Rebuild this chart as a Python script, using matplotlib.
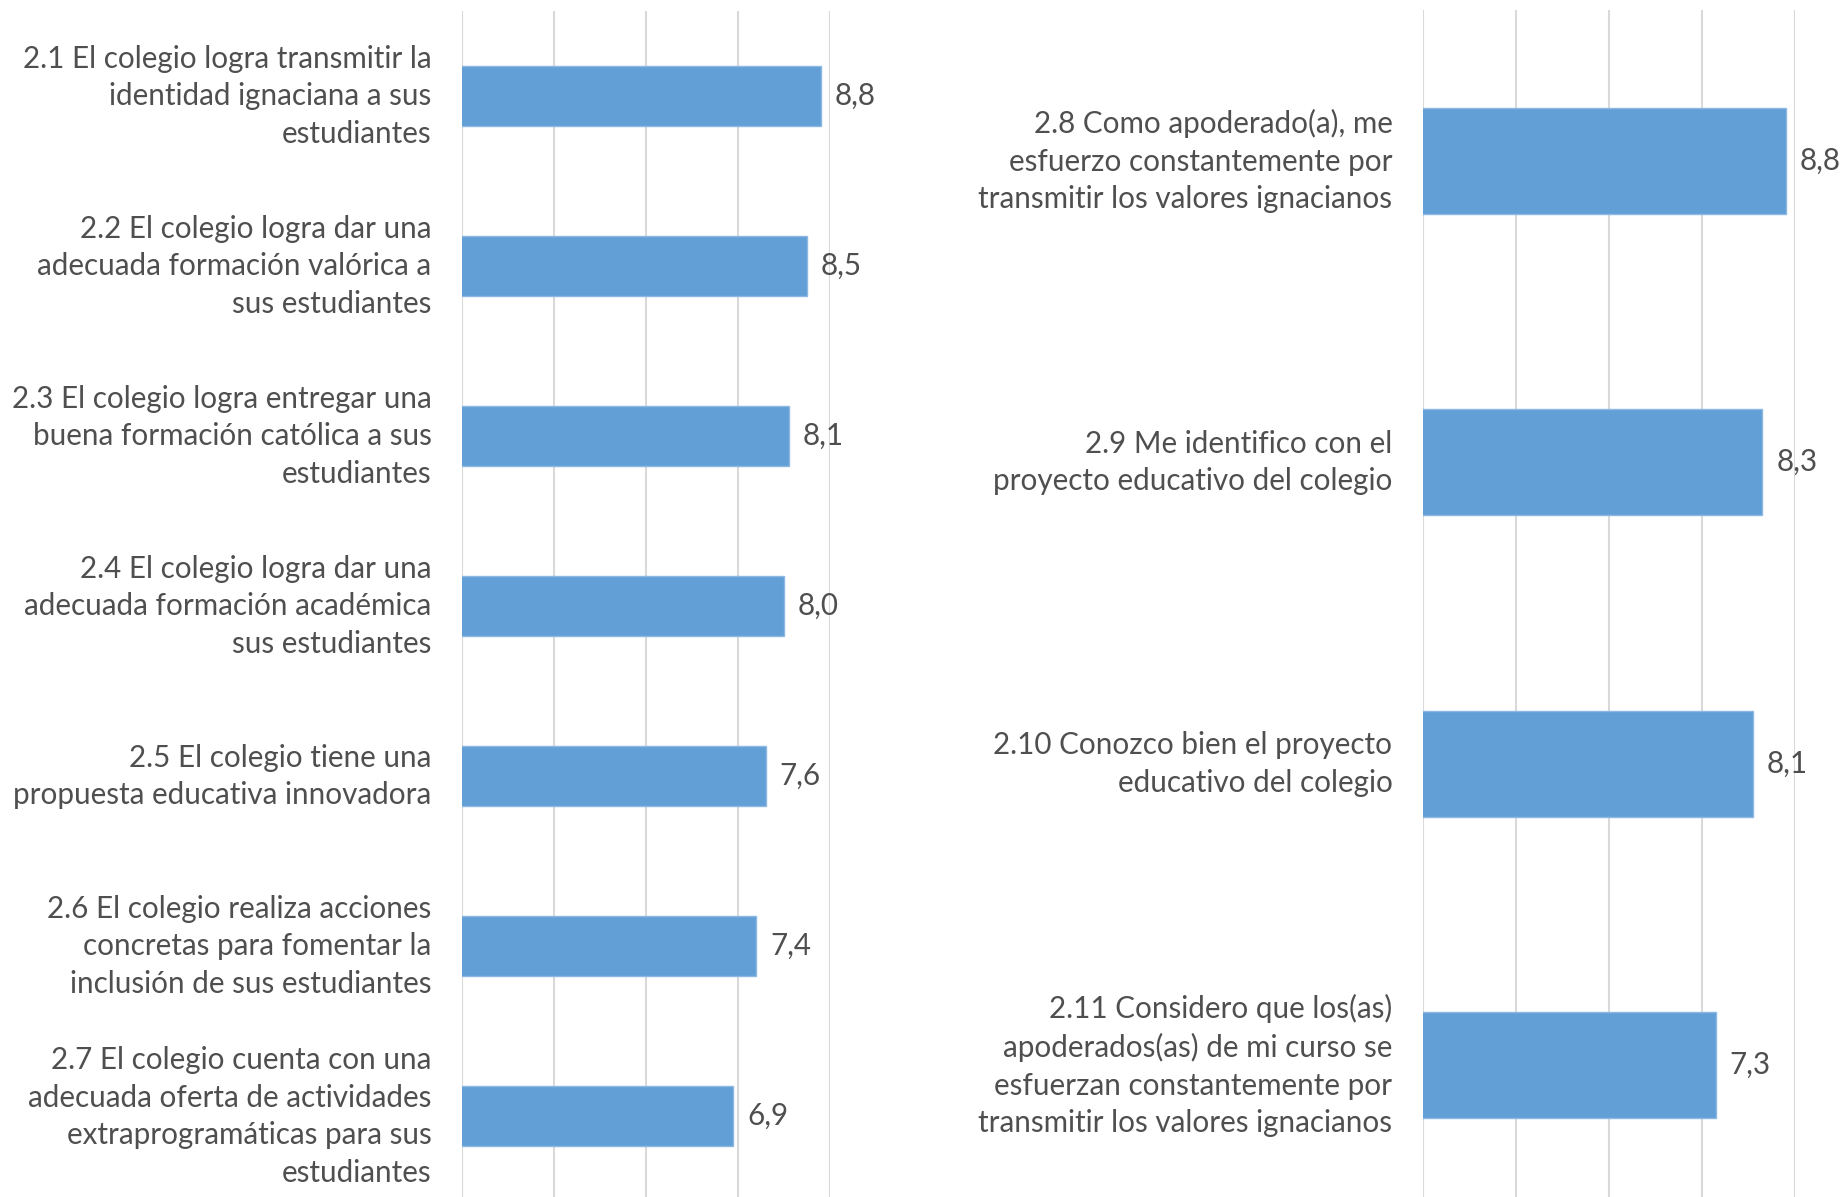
import matplotlib
matplotlib.use("Agg")
import matplotlib.pyplot as plt
from matplotlib import transforms

plt.rcParams['font.family'] = ['Lato', 'DejaVu Sans']

left_labels = [
    "2.1 El colegio logra transmitir la\nidentidad ignaciana a sus\nestudiantes",
    "2.2 El colegio logra dar una\nadecuada formación valórica a\nsus estudiantes",
    "2.3 El colegio logra entregar una\nbuena formación católica a sus\nestudiantes",
    "2.4 El colegio logra dar una\nadecuada formación académica\nsus estudiantes",
    "2.5 El colegio tiene una\npropuesta educativa innovadora",
    "2.6 El colegio realiza acciones\nconcretas para fomentar la\ninclusión de sus estudiantes",
    "2.7 El colegio cuenta con una\nadecuada oferta de actividades\nextraprogramáticas para sus\nestudiantes",
]
left_values = [8.8, 8.5, 8.1, 8.0, 7.6, 7.4, 6.9]

right_labels = [
    "2.8 Como apoderado(a), me\nesfuerzo constantemente por\ntransmitir los valores ignacianos",
    "2.9 Me identifico con el\nproyecto educativo del colegio",
    "2.10 Conozco bien el proyecto\neducativo del colegio",
    "2.11 Considero que los(as)\napoderados(as) de mi curso se\nesfuerzan constantemente por\ntransmitir los valores ignacianos",
]
right_values = [8.8, 8.3, 8.1, 7.3]

W, H = 1844, 1197
fig = plt.figure(figsize=(W / 100, H / 100), dpi=100)

BAR = '#629fd6'
TXT = '#4f4f4f'
GRID = '#d9d9d9'
FS = 21.3


def panel(rect_px, labels, values):
    x0, x1, ytop, ybot = rect_px
    ax = fig.add_axes([x0 / W, 1 - ybot / H, (x1 - x0) / W, (ybot - ytop) / H])
    n = len(labels)
    pos = list(range(n))
    ax.barh(pos, values, height=0.35, color=BAR, edgecolor='#8cb8e2', linewidth=1.0, zorder=2)
    ax.set_xlim(1, 9)
    ax.set_ylim(n - 0.5, -0.5)
    ax.set_xticks([1, 3, 5, 7, 9])
    ax.xaxis.grid(True, color=GRID, linewidth=1.5, zorder=0)
    ax.set_axisbelow(True)
    ax.tick_params(axis='x', length=0, labelbottom=False)
    for s in ax.spines.values():
        s.set_visible(False)
    ax.set_yticks(pos)
    ax.set_yticklabels(labels, fontsize=FS, color=TXT, linespacing=1.42, ha='right', multialignment='right')
    ax.tick_params(axis='y', length=0, pad=22)
    shift = transforms.ScaledTranslation(0, 5.0 / 72, fig.dpi_scale_trans)
    for lab in ax.get_yticklabels():
        lab.set_transform(lab.get_transform() + shift)
    for p, v in zip(pos, values):
        ax.annotate(f"{v:.1f}".replace('.', ','), xy=(v, p), xytext=(10, 0), textcoords='offset points',
                    va='center', ha='left', fontsize=FS, color=TXT, annotation_clip=False)
    return ax


panel((462, 830, 11, 1201), left_labels, left_values)
panel((1423, 1795, 10, 1216), right_labels, right_values)

fig.savefig('out.png', dpi=100, facecolor='white')
